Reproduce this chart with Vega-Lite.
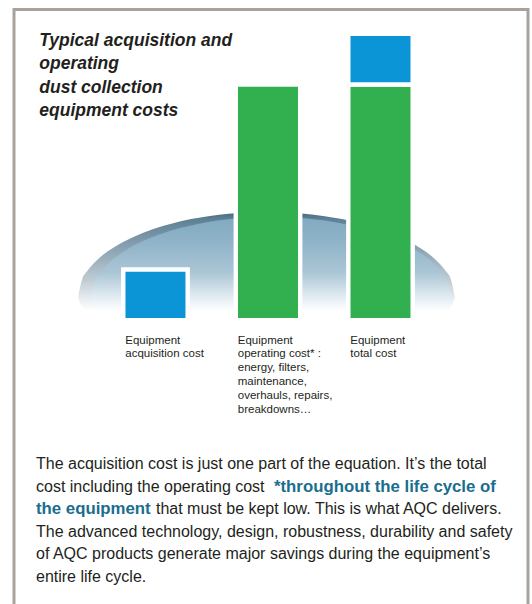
{
  "$schema": "https://vega.github.io/schema/vega-lite/v6.json",
  "autosize": {"type": "none"},
  "padding": {"left": 14, "top": 9.5, "right": 4, "bottom": 0},
  "width": 514,
  "height": 594.5,
  "background": "white",
  "config": {
    "view": {"stroke": "#a9a29c", "strokeWidth": 3, "strokeDash": [1110, 512, 600]},
    "text": {"font": "Liberation Sans, Arial, sans-serif", "fill": "#231f20"}
  },
  "datasets": {
    "bars": [
      {"item": "Equipment acquisition cost", "component": "Acquisition cost", "cost": 10},
      {"item": "Equipment operating cost", "component": "Operating cost", "cost": 46.5},
      {"item": "Equipment total cost", "component": "Operating cost", "cost": 46.5},
      {"item": "Equipment total cost", "component": "Acquisition cost", "cost": 10}
    ],
    "labels": [
      {"item": "Equipment acquisition cost", "label": "Equipment\nacquisition cost"},
      {"item": "Equipment operating cost", "label": "Equipment\noperating cost* :\nenergy, filters,\nmaintenance,\noverhauls, repairs,\nbreakdowns…"},
      {"item": "Equipment total cost", "label": "Equipment\ntotal cost"}
    ],
    "heading": [{"item": "Equipment acquisition cost", "text": "Typical acquisition and\noperating\ndust collection\nequipment costs"}],
    "para1": [{"item": "Equipment acquisition cost", "text": "The acquisition cost is just one part of the equation. It’s the total\ncost including the operating cost"}],
    "para2": [{"item": "Equipment acquisition cost", "text": "*throughout the life cycle of"}],
    "para3": [{"item": "Equipment acquisition cost", "text": "the equipment"}],
    "para4": [{"item": "Equipment acquisition cost", "text": "that must be kept low. This is what AQC delivers."}],
    "para5": [{"item": "Equipment acquisition cost", "text": "The advanced technology, design, robustness, durability and safety\nof AQC products generate major savings during the equipment’s\nentire life cycle."}],
    "domeOuter": [
      {"u": -1, "h": 4.48, "h2": 4.48}, {"u": -0.98, "h": 7.83, "h2": 2.7}, {"u": -0.95, "h": 9.74, "h2": 1.72}, {"u": -0.9, "h": 11.83, "h2": 0.61},
      {"u": -0.8, "h": 14.6, "h2": -0.85}, {"u": -0.7, "h": 16.51, "h2": -1.85}, {"u": -0.6, "h": 17.97, "h2": -2.62}, {"u": -0.5, "h": 19.07, "h2": -3.21},
      {"u": -0.4, "h": 19.94, "h2": -3.65}, {"u": -0.3, "h": 20.57, "h2": -3.98}, {"u": -0.2, "h": 21.0, "h2": -4.22}, {"u": -0.1, "h": 21.26, "h2": -4.36},
      {"u": 0, "h": 21.34, "h2": -4.4}, {"u": 0.1, "h": 21.26, "h2": -4.36}, {"u": 0.2, "h": 21.0, "h2": -4.22}, {"u": 0.3, "h": 20.57, "h2": -3.98},
      {"u": 0.4, "h": 19.94, "h2": -3.65}, {"u": 0.5, "h": 19.07, "h2": -3.21}, {"u": 0.6, "h": 17.97, "h2": -2.62}, {"u": 0.7, "h": 16.51, "h2": -1.85},
      {"u": 0.8, "h": 14.6, "h2": -0.85}, {"u": 0.9, "h": 11.83, "h2": 0.61}, {"u": 0.95, "h": 9.74, "h2": 1.72}, {"u": 0.98, "h": 7.83, "h2": 2.7},
      {"u": 1, "h": 4.48, "h2": 4.48}
    ],
    "domeInner": [
      {"u": -0.931, "h": 4.28, "h2": 4.28}, {"u": -0.912, "h": 7.48, "h2": 2.62}, {"u": -0.883, "h": 9.31, "h2": 1.7}, {"u": -0.836, "h": 11.3, "h2": 0.67},
      {"u": -0.74, "h": 13.94, "h2": -0.69}, {"u": -0.549, "h": 17.16, "h2": -2.35}, {"u": -0.358, "h": 19.03, "h2": -3.31}, {"u": -0.167, "h": 20.06, "h2": -3.85},
      {"u": 0.024, "h": 20.37, "h2": -4.0}, {"u": 0.215, "h": 20.06, "h2": -3.85}, {"u": 0.406, "h": 19.03, "h2": -3.31}, {"u": 0.597, "h": 17.16, "h2": -2.35},
      {"u": 0.788, "h": 13.94, "h2": -0.69}, {"u": 0.883, "h": 11.3, "h2": 0.67}, {"u": 0.931, "h": 9.31, "h2": 1.7}, {"u": 0.96, "h": 7.48, "h2": 2.62},
      {"u": 0.979, "h": 4.28, "h2": 4.28}
    ]
  },
  "resolve": {"scale": {"x": "independent"}},
  "layer": [
    {
      "layer": [
        {
          "data": {"name": "domeOuter"},
          "mark": {
            "type": "area", "interpolate": "monotone",
            "color": {
              "gradient": "linear", "x1": 0, "y1": 0, "x2": 0, "y2": 1,
              "stops": [
                {"offset": 0, "color": "#45677c"},
                {"offset": 0.05, "color": "#5d7f94"},
                {"offset": 0.3, "color": "#8ea6b5"},
                {"offset": 0.52, "color": "#bfcbd3"},
                {"offset": 0.66, "color": "#e6ecef"},
                {"offset": 0.76, "color": "#ffffff"},
                {"offset": 1, "color": "#ffffff"}
              ]
            }
          },
          "encoding": {
            "x": {"field": "u", "type": "quantitative", "axis": null, "scale": {"domain": [-1.3395, 1.3873], "nice": false, "zero": false}},
            "y": {"field": "h", "type": "quantitative", "axis": null},
            "y2": {"field": "h2"}
          }
        },
        {
          "data": {"name": "domeInner"},
          "mark": {
            "type": "area", "interpolate": "monotone",
            "color": {
              "gradient": "linear", "x1": 0, "y1": 0, "x2": 0, "y2": 1,
              "stops": [
                {"offset": 0, "color": "#80a9c0"},
                {"offset": 0.2, "color": "#8fb3c8"},
                {"offset": 0.45, "color": "#aac6d5"},
                {"offset": 0.62, "color": "#dbe7ee"},
                {"offset": 0.76, "color": "#ffffff"},
                {"offset": 1, "color": "#ffffff"}
              ]
            }
          },
          "encoding": {
            "x": {"field": "u", "type": "quantitative", "axis": null},
            "y": {"field": "h", "type": "quantitative", "axis": null},
            "y2": {"field": "h2"}
          }
        }
      ]
    },
    {
      "layer": [
        {
          "data": {"name": "bars"},
          "mark": {"type": "bar", "stroke": "white", "strokeWidth": 4.4},
          "encoding": {
            "x": {
              "field": "item", "type": "nominal", "axis": null,
              "scale": {
                "type": "band",
                "domain": ["Equipment acquisition cost", "Equipment operating cost", "Equipment total cost"],
                "paddingInner": 0.4276, "paddingOuter": 0.998, "align": 0.4866
              }
            },
            "y": {
              "field": "cost", "type": "quantitative", "stack": "zero", "axis": null,
              "scale": {"domain": [-55.98, 61.28], "nice": false, "zero": false}
            },
            "color": {
              "field": "component", "type": "nominal", "legend": null,
              "scale": {"domain": ["Operating cost", "Acquisition cost"], "range": ["#32b04f", "#0b95d7"]}
            },
            "order": {"field": "component", "sort": "descending"}
          }
        },
        {
          "data": {"name": "labels"},
          "mark": {"type": "text", "align": "left", "baseline": "alphabetic", "lineBreak": "\n", "fontSize": 11.5, "lineHeight": 13.9, "dx": 2},
          "encoding": {
            "x": {"field": "item", "type": "nominal", "bandPosition": 0},
            "y": {"datum": -4.6},
            "text": {"field": "label"}
          }
        },
        {
          "data": {"name": "heading"},
          "mark": {"type": "text", "align": "left", "baseline": "alphabetic", "lineBreak": "\n", "fontSize": 17.5, "lineHeight": 23.3, "fontWeight": "bold", "fontStyle": "italic", "dx": -84},
          "encoding": {
            "x": {"field": "item", "type": "nominal", "bandPosition": 0},
            "y": {"datum": 54.08},
            "text": {"field": "text"}
          }
        },
        {
          "data": {"name": "para1"},
          "mark": {"type": "text", "align": "left", "baseline": "alphabetic", "lineBreak": "\n", "fontSize": 16, "lineHeight": 22.5, "dx": -87.3},
          "encoding": {
            "x": {"field": "item", "type": "nominal", "bandPosition": 0},
            "y": {"datum": -29.45},
            "text": {"field": "text"}
          }
        },
        {
          "data": {"name": "para2"},
          "mark": {"type": "text", "align": "left", "baseline": "alphabetic", "fontSize": 16.8, "fontWeight": "bold", "fill": "#1a6e8d", "dx": 150.7},
          "encoding": {
            "x": {"field": "item", "type": "nominal", "bandPosition": 0},
            "y": {"datum": -33.89},
            "text": {"field": "text"}
          }
        },
        {
          "data": {"name": "para3"},
          "mark": {"type": "text", "align": "left", "baseline": "alphabetic", "fontSize": 16.8, "fontWeight": "bold", "fill": "#1a6e8d", "dx": -87.3},
          "encoding": {
            "x": {"field": "item", "type": "nominal", "bandPosition": 0},
            "y": {"datum": -38.32},
            "text": {"field": "text"}
          }
        },
        {
          "data": {"name": "para4"},
          "mark": {"type": "text", "align": "left", "baseline": "alphabetic", "fontSize": 16, "dx": 32.7},
          "encoding": {
            "x": {"field": "item", "type": "nominal", "bandPosition": 0},
            "y": {"datum": -38.32},
            "text": {"field": "text"}
          }
        },
        {
          "data": {"name": "para5"},
          "mark": {"type": "text", "align": "left", "baseline": "alphabetic", "lineBreak": "\n", "fontSize": 16, "lineHeight": 22.5, "dx": -87.3},
          "encoding": {
            "x": {"field": "item", "type": "nominal", "bandPosition": 0},
            "y": {"datum": -42.76},
            "text": {"field": "text"}
          }
        }
      ]
    }
  ]
}
